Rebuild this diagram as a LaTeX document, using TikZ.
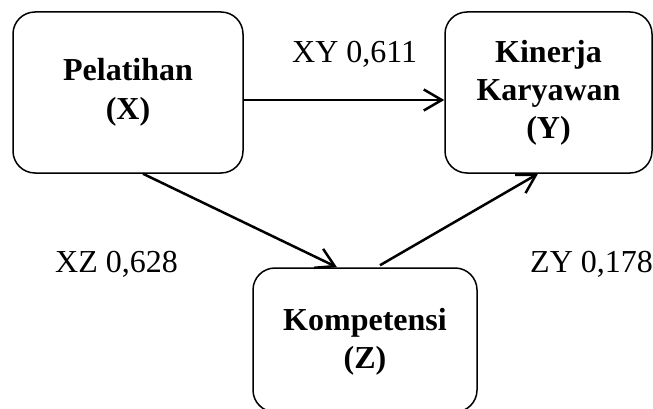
\documentclass[tikz,border=0pt]{standalone}
\usepackage{fontspec}
\setmainfont{Liberation Serif}
\usetikzlibrary{arrows.meta}
\begin{document}
\begin{tikzpicture}[x=1pt,y=-1pt,
  boxnode/.style={draw, line width=1.5pt, rounded corners=22pt, align=center,
    font=\fontsize{32}{38}\selectfont\bfseries, inner sep=0pt},
  arr/.style={line width=2.5pt, -{Straight Barb[length=18pt,width=21pt,line width=2.5pt]}},
  lbl/.style={font=\fontsize{32}{38}\selectfont, inner sep=0pt, anchor=base west}]
\useasboundingbox (0,0) rectangle (653,409);
\node[boxnode, minimum width=230pt, minimum height=161pt] (X) at (128,92.5) {Pelatihan\\[1pt](X)};
\node[boxnode, minimum width=207pt, minimum height=161pt] (Y) at (548.5,92.5) {Kinerja\\Karyawan\\(Y)};
\node[boxnode, minimum width=224pt, minimum height=144pt] (Z) at (365,340) {\strut\\[-38pt]Kompetensi\\(Z)};
\draw[arr] ([yshift=-7.5pt]X.east) -- ([yshift=-7.5pt]Y.west);
\draw[arr] ([xshift=15pt]X.south) -- ([xshift=-28pt]Z.north);
\draw[arr] ([xshift=15pt,yshift=2pt]Z.north) -- ([xshift=-10.5pt]Y.south);
\node[lbl] (lxy) at (292,63) {XY 0,611};
\node[lbl] (lxz) at (55,272) {XZ 0,628};
\node[lbl] (lzy) at (530,272) {ZY 0,178};
\end{tikzpicture}
\end{document}
